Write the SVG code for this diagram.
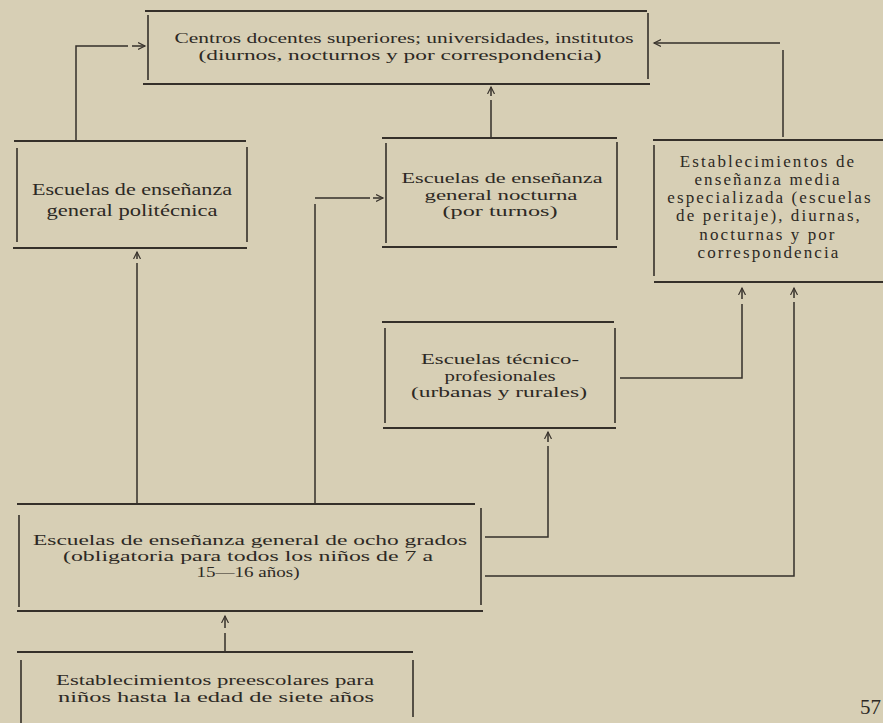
<svg xmlns="http://www.w3.org/2000/svg" width="883" height="723" viewBox="0 0 883 723">
<defs>
<marker id="ah" markerUnits="userSpaceOnUse" markerWidth="10" markerHeight="10" refX="7" refY="4" orient="auto">
<path d="M0,0.5 L7,4 L0,7.5" fill="none" stroke="#3a342d" stroke-width="1.2"/>
</marker>
</defs>
<style>
.hl{stroke:#35302a;stroke-width:2.2;fill:none}
.vl{stroke:#35302a;stroke-width:1.6;fill:none}
.cn{stroke:#35302a;stroke-width:1.5;fill:none;marker-end:url(#ah)}
text{font-family:"Liberation Serif","DejaVu Serif",serif;fill:#2d2924;text-anchor:middle}
.t1{font-size:15px}
.t2{font-size:16.5px}
.t4{font-size:17px;letter-spacing:2.1px}
.pg{font-size:21px;text-anchor:start}
</style>
<rect width="883" height="723" fill="#d7cfb5"/>
<g id="connectors">
<path class="cn" d="M76,140 V46 H128 M132,46 H145"/>
<path class="cn" d="M491,137 V100 M491,96 V87"/>
<path class="cn" d="M783,137 V50 M780,43 H654"/>
<path class="cn" d="M137,503 V263 M137,259 V252"/>
<path class="cn" d="M315,503 V204 M315,198 H370 M373,198 H383"/>
<path class="cn" d="M620,378 H742 V304 M742,299 V288"/>
<path class="cn" d="M485,576 H794 V302 M794,298 V288"/>
<path class="cn" d="M485,537 H548 V446 M548,442 V432"/>
<path class="cn" d="M225,652 V633 M225,628 V616"/>
</g>
<g id="node-centros">
<path class="hl" d="M145,11 H647 M143,84 H650"/>
<path class="vl" d="M148,15 V80 M648,13 V79"/>
<text class="t1" x="404" y="43" textLength="459" lengthAdjust="spacingAndGlyphs">Centros docentes superiores; universidades, institutos</text>
<text class="t1" x="400" y="60" textLength="403" lengthAdjust="spacingAndGlyphs">(diurnos, nocturnos y por correspondencia)</text>
</g>
<g id="node-politecnica">
<path class="hl" d="M14,141 H246 M13,248 H247"/>
<path class="vl" d="M17,148 V242 M247,147 V242"/>
<text class="t2" x="132" y="195" textLength="200" lengthAdjust="spacingAndGlyphs">Escuelas de enseñanza</text>
<text class="t2" x="132" y="216" textLength="171" lengthAdjust="spacingAndGlyphs">general politécnica</text>
</g>
<g id="node-nocturna">
<path class="hl" d="M382,138 H617 M382,247 H617"/>
<path class="vl" d="M386,143 V243 M617,142 V240"/>
<text class="t1" x="502" y="183" textLength="201" lengthAdjust="spacingAndGlyphs">Escuelas de enseñanza</text>
<text class="t1" x="501" y="199.5" textLength="153" lengthAdjust="spacingAndGlyphs">general nocturna</text>
<text class="t1" x="500" y="216" textLength="115" lengthAdjust="spacingAndGlyphs">(por turnos)</text>
</g>
<g id="node-media">
<path class="hl" d="M653,140 H883 M654,282 H883"/>
<path class="vl" d="M654,145 V276"/>
<text class="t4" x="768" y="167">Establecimientos de</text>
<text class="t4" x="768" y="185">enseñanza media</text>
<text class="t4" x="770" y="203">especializada (escuelas</text>
<text class="t4" x="769" y="221">de peritaje), diurnas,</text>
<text class="t4" x="768" y="240">nocturnas y por</text>
<text class="t4" x="769" y="258">correspondencia</text>
</g>
<g id="node-tecnico">
<path class="hl" d="M382,322 H614 M383,428 H616"/>
<path class="vl" d="M385,328 V423 M615,328 V423"/>
<text class="t1" x="500" y="364" textLength="158" lengthAdjust="spacingAndGlyphs">Escuelas técnico-</text>
<text class="t1" x="500" y="380.5" textLength="111" lengthAdjust="spacingAndGlyphs">profesionales</text>
<text class="t1" x="499" y="397" textLength="176" lengthAdjust="spacingAndGlyphs">(urbanas y rurales)</text>
</g>
<g id="node-ocho">
<path class="hl" d="M17,504 H475 M17,611 H483"/>
<path class="vl" d="M19,515 V607 M481,508 V605"/>
<text class="t1" x="250" y="545" textLength="434" lengthAdjust="spacingAndGlyphs">Escuelas de enseñanza general de ocho grados</text>
<text class="t1" x="248" y="561" textLength="370" lengthAdjust="spacingAndGlyphs">(obligatoria para todos los niños de 7 a</text>
<text class="t1" x="248" y="577" textLength="103" lengthAdjust="spacingAndGlyphs">15—16 años)</text>
</g>
<g id="node-preescolares">
<path class="hl" d="M17,652 H413"/>
<path class="vl" d="M21,660 V723 M413,660 V717"/>
<text class="t1" x="215" y="685" textLength="318" lengthAdjust="spacingAndGlyphs">Establecimientos preescolares para</text>
<text class="t1" x="216" y="702" textLength="316" lengthAdjust="spacingAndGlyphs">niños hasta la edad de siete años</text>
</g>
<text class="pg" x="860" y="714">57</text>
</svg>
